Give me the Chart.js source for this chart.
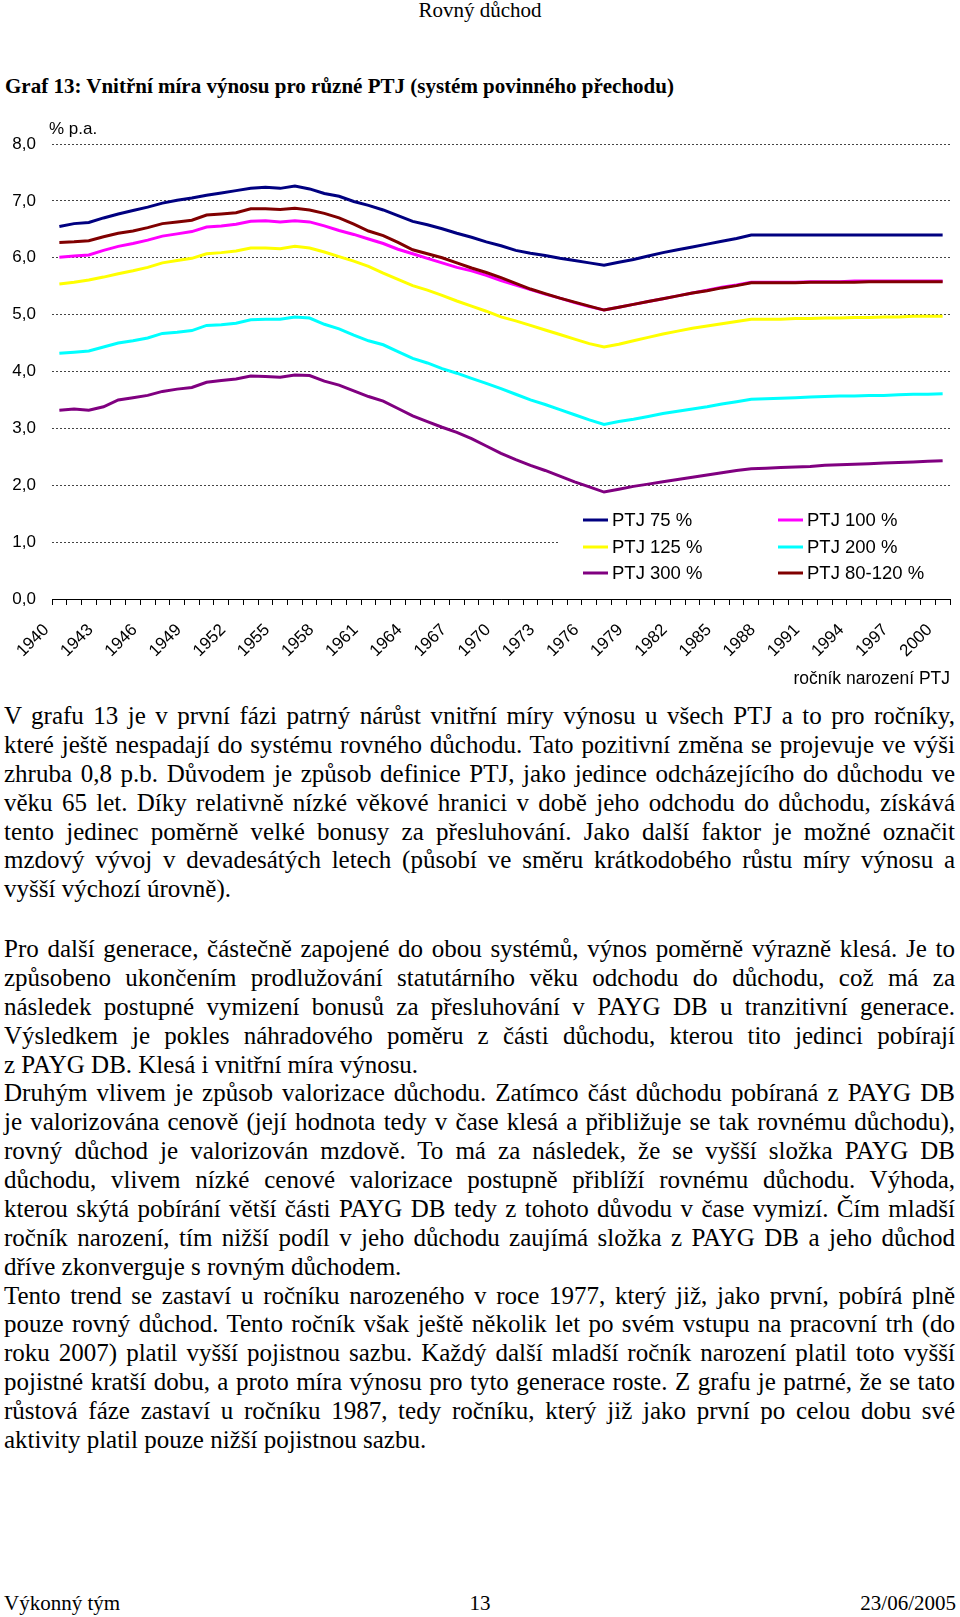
<!DOCTYPE html>
<html lang="cs">
<head>
<meta charset="utf-8">
<title>Graf 13</title>
<script src="https://cdn.jsdelivr.net/npm/chart.js@4.4.1/dist/chart.umd.min.js"></script>
<style>
  html, body { margin: 0; padding: 0; background: #fff; }
  #page { position: relative; width: 960px; height: 1617px; overflow: hidden;
          font-family: "Liberation Serif", "Times New Roman", serif; color: #000; }
  #chartBox { position: absolute; left: 0; top: 99px; width: 960px; height: 600px; }
  .ln { position: absolute; left: 4px; white-space: pre; font-size: 25px; line-height: 29px; }
  .hdr { position: absolute; left: 0; width: 960px; top: 0; text-align: center; font-size: 21px; line-height: 21px; }
  .ttl { position: absolute; left: 5px; top: 74px; font-size: 21px; line-height: 24px; font-weight: bold; white-space: nowrap; }
  .ft { position: absolute; top: 1591px; font-size: 21px; line-height: 24px; white-space: nowrap; }
</style>
</head>
<body>
<div id="page">
  <div class="hdr">Rovný důchod</div>
  <div class="ttl">Graf 13: Vnitřní míra výnosu pro různé PTJ (systém povinného přechodu)</div>
  <div id="chartBox"><canvas id="c"></canvas></div>
  <div class="ft" style="left:4px">Výkonný tým</div>
  <div class="ft" style="left:0;width:960px;text-align:center">13</div>
  <div class="ft" style="right:4px">23/06/2005</div>
</div>
<script>
// ročník narození (categories)
const years = ["1940","1941","1942","1943","1944","1945","1946","1947","1948","1949",
  "1950","1951","1952","1953","1954","1955","1956","1957","1958","1959",
  "1960","1961","1962","1963","1964","1965","1966","1967","1968","1969",
  "1970","1971","1972","1973","1974","1975","1976","1977","1978","1979",
  "1980","1981","1982","1983","1984","1985","1986","1987","1988","1989",
  "1990","1991","1992","1993","1994","1995","1996","1997","1998","1999","2000"];

// labelled years on the x axis
const tickYears = ["1940","1943","1946","1949","1952","1955","1958","1961","1964","1967",
  "1970","1973","1976","1979","1982","1985","1988","1991","1994","1997","2000"];

const ptj75 = [6.55,6.60,6.62,6.70,6.77,6.83,6.89,6.96,7.01,7.05,
  7.10,7.14,7.18,7.22,7.24,7.22,7.26,7.21,7.13,7.08,
  6.99,6.92,6.84,6.74,6.64,6.58,6.51,6.43,6.36,6.28,
  6.21,6.13,6.08,6.04,5.99,5.95,5.91,5.87,
  5.92,5.97,6.03,6.09,6.14,6.19,6.24,6.29,6.34,6.40,
  6.40,6.40,6.40,6.40,6.40,6.40,6.40,6.40,6.40,6.40,6.40,6.40,6.40];

const ptj100 = [6.01,6.03,6.05,6.13,6.20,6.25,6.31,6.38,6.42,6.46,
  6.54,6.56,6.59,6.64,6.65,6.63,6.65,6.63,6.56,6.48,
  6.41,6.33,6.25,6.15,6.07,5.99,5.91,5.83,5.77,5.69,
  5.60,5.52,5.44,5.36,5.29,5.21,5.14,5.08,
  5.13,5.18,5.23,5.28,5.33,5.38,5.43,5.48,5.52,5.57,
  5.57,5.57,5.57,5.58,5.58,5.58,5.59,5.59,5.59,5.59,5.59,5.59,5.59];

const ptj125 = [5.54,5.57,5.61,5.66,5.72,5.77,5.83,5.91,5.95,5.99,
  6.07,6.09,6.12,6.17,6.17,6.16,6.20,6.17,6.10,6.02,
  5.94,5.85,5.73,5.62,5.51,5.43,5.34,5.24,5.15,5.06,
  4.96,4.89,4.81,4.73,4.65,4.57,4.49,4.43,
  4.48,4.54,4.60,4.66,4.71,4.76,4.80,4.84,4.88,4.92,
  4.92,4.92,4.93,4.93,4.94,4.94,4.95,4.95,4.96,4.96,4.97,4.97,4.97];

const ptj200 = [4.32,4.34,4.36,4.43,4.50,4.54,4.59,4.67,4.69,4.72,
  4.81,4.82,4.85,4.91,4.92,4.92,4.96,4.94,4.83,4.75,
  4.64,4.54,4.47,4.35,4.23,4.15,4.05,3.97,3.88,3.79,
  3.70,3.60,3.50,3.42,3.33,3.24,3.15,3.07,
  3.12,3.16,3.21,3.26,3.30,3.34,3.38,3.43,3.47,3.51,
  3.52,3.53,3.54,3.55,3.56,3.57,3.57,3.58,3.58,3.59,3.60,3.60,3.61];

const ptj300 = [3.32,3.34,3.32,3.38,3.50,3.54,3.58,3.65,3.69,3.72,
  3.81,3.84,3.87,3.92,3.91,3.90,3.94,3.93,3.83,3.76,
  3.66,3.56,3.48,3.35,3.22,3.12,3.02,2.93,2.82,2.69,
  2.56,2.45,2.35,2.26,2.16,2.06,1.97,1.88,
  1.93,1.98,2.02,2.06,2.10,2.14,2.18,2.22,2.26,2.29,
  2.30,2.31,2.32,2.33,2.35,2.36,2.37,2.38,2.39,2.40,2.41,2.42,2.43];

const ptj80_120 = [6.27,6.28,6.30,6.37,6.43,6.47,6.53,6.60,6.63,6.66,
  6.75,6.77,6.79,6.86,6.86,6.85,6.87,6.84,6.78,6.70,
  6.59,6.47,6.39,6.27,6.14,6.07,6.00,5.91,5.82,5.74,
  5.65,5.55,5.45,5.37,5.29,5.22,5.15,5.08,
  5.13,5.18,5.23,5.28,5.33,5.38,5.42,5.47,5.51,5.56,
  5.56,5.56,5.56,5.57,5.57,5.57,5.57,5.58,5.58,5.58,5.58,5.58,5.58];

const seriesNames = ["PTJ 75 %", "PTJ 100 %", "PTJ 125 %", "PTJ 200 %", "PTJ 300 %", "PTJ 80-120 %"];
const seriesData = [ptj75, ptj100, ptj125, ptj200, ptj300, ptj80_120];
const seriesColors = ["#000080", "#ff00ff", "#ffff00", "#00ffff", "#800080", "#800000"];

Chart.defaults.font.family = '"Liberation Sans", Arial, sans-serif';
Chart.defaults.color = "#000";

// "% p.a." above the value axis
const unitLabel = {
  id: "unitLabel",
  afterDraw(chart) {
    const ctx = chart.ctx, a = chart.chartArea;
    ctx.save();
    ctx.font = '17px "Liberation Sans", Arial, sans-serif';
    ctx.fillStyle = "#000";
    ctx.textBaseline = "middle";
    ctx.fillText("% p.a.", a.left - 3, a.top - 15);
    ctx.restore();
  }
};

// two-column legend inside the plot, bottom right
const legendBox = {
  id: "legendBox",
  afterDraw(chart) {
    const ctx = chart.ctx, a = chart.chartArea;
    const left = a.left + 508, top = a.bottom - 97;
    ctx.save();
    ctx.fillStyle = "#fff";
    ctx.fillRect(left, top, a.right + 2 - left, 95);
    ctx.font = '18.5px "Liberation Sans", Arial, sans-serif';
    ctx.textBaseline = "middle";
    const rows = [a.bottom - 79, a.bottom - 52, a.bottom - 26];
    const cols = [a.left + 531, a.left + 726];
    chart.data.datasets.forEach((ds, i) => {
      const x = cols[i % 2], y = rows[Math.floor(i / 2)];
      ctx.strokeStyle = ds.borderColor;
      ctx.lineWidth = 3;
      ctx.beginPath();
      ctx.moveTo(x, y);
      ctx.lineTo(x + 25, y);
      ctx.stroke();
      ctx.fillStyle = "#000";
      ctx.fillText(ds.label, x + 29, y + 1);
    });
    ctx.restore();
  }
};

new Chart(document.getElementById("c"), {
  type: "line",
  data: {
    labels: years,
    datasets: seriesNames.map((name, i) => ({
      label: name,
      data: seriesData[i],
      borderColor: seriesColors[i],
      backgroundColor: seriesColors[i],
      borderWidth: 3,
      pointRadius: 0,
      tension: 0,
      fill: false,
      order: -i
    }))
  },
  options: {
    responsive: true,
    maintainAspectRatio: false,
    animation: false,
    layout: { padding: { top: 45, right: 10, bottom: 0, left: 0 } },
    plugins: { legend: { display: false }, tooltip: { enabled: false } },
    scales: {
      x: {
        offset: true,
        grid: { offset: true, drawOnChartArea: false, drawTicks: true, tickLength: 6, color: "#000", lineWidth: 1 },
        border: { display: true, color: "#000", width: 1 },
        ticks: {
          autoSkip: false, maxRotation: 45, minRotation: 45,
          labelOffset: -13, padding: 15,
          font: { size: 17 }, color: "#000",
          callback(value) {
            const y = this.getLabelForValue(value);
            return tickYears.includes(y) ? y : "";
          }
        },
        title: { display: true, text: "ročník narození PTJ", align: "end",
                 font: { size: 17.5 }, color: "#000", padding: { top: 0, bottom: 9 } },
        afterFit(s) { s.height = 100; s.paddingLeft = 0; s.paddingRight = 0; }
      },
      y: {
        min: 0, max: 8,
        ticks: { stepSize: 1, padding: 16, font: { size: 17 }, color: "#000",
                 callback: v => v.toFixed(1).replace(".", ",") },
        grid: { drawTicks: false, color: "#444", lineWidth: 1 },
        border: { display: false, dash: [2, 2] },
        afterFit(s) { s.width = 52; }
      }
    }
  },
  plugins: [unitLabel, legendBox]
});

// body text, laid out line by line as in the original page
const TEXT_W = 951, LINE_H = 28.87;
const blocks = [
  { y: 715.6, lines: [
    ["V grafu 13 je v první fázi patrný nárůst vnitřní míry výnosu u všech PTJ a to pro ročníky,", 1],
    ["které ještě nespadají do systému rovného důchodu. Tato pozitivní změna se projevuje ve výši", 1],
    ["zhruba 0,8 p.b. Důvodem je způsob definice PTJ, jako jedince odcházejícího do důchodu ve", 1],
    ["věku 65 let. Díky relativně nízké věkové hranici v době jeho odchodu do důchodu, získává", 1],
    ["tento jedinec poměrně velké bonusy za přesluhování. Jako další faktor je možné označit", 1],
    ["mzdový vývoj v devadesátých letech (působí ve směru krátkodobého růstu míry výnosu a", 1],
    ["vyšší výchozí úrovně).", 0]
  ]},
  { y: 948.6, lines: [
    ["Pro další generace, částečně zapojené do obou systémů, výnos poměrně výrazně klesá. Je to", 1],
    ["způsobeno ukončením prodlužování statutárního věku odchodu do důchodu, což má za", 1],
    ["následek postupné vymizení bonusů za přesluhování v PAYG DB u tranzitivní generace.", 1],
    ["Výsledkem je pokles náhradového poměru z části důchodu, kterou tito jedinci pobírají", 1],
    ["z PAYG DB. Klesá i vnitřní míra výnosu.", 0],
    ["Druhým vlivem je způsob valorizace důchodu. Zatímco část důchodu pobíraná z PAYG DB", 1],
    ["je valorizována cenově (její hodnota tedy v čase klesá a přibližuje se tak rovnému důchodu),", 1],
    ["rovný důchod je valorizován mzdově. To má za následek, že se vyšší složka PAYG DB", 1],
    ["důchodu, vlivem nízké cenové valorizace postupně přiblíží rovnému důchodu. Výhoda,", 1],
    ["kterou skýtá pobírání větší části PAYG DB tedy z tohoto důvodu v čase vymizí. Čím mladší", 1],
    ["ročník narození, tím nižší podíl v jeho důchodu zaujímá složka z PAYG DB a jeho důchod", 1],
    ["dříve zkonverguje s rovným důchodem.", 0],
    ["Tento trend se zastaví u ročníku narozeného v roce 1977, který již, jako první, pobírá plně", 1],
    ["pouze rovný důchod. Tento ročník však ještě několik let po svém vstupu na pracovní trh (do", 1],
    ["roku 2007) platil vyšší pojistnou sazbu. Každý další mladší ročník narození platil toto vyšší", 1],
    ["pojistné kratší dobu, a proto míra výnosu pro tyto generace roste. Z grafu je patrné, že se tato", 1],
    ["růstová fáze zastaví u ročníku 1987, tedy ročníku, který již jako první po celou dobu své", 1],
    ["aktivity platil pouze nižší pojistnou sazbu.", 0]
  ]}
];

const page = document.getElementById("page");
blocks.forEach(b => {
  b.lines.forEach(([text, justify], k) => {
    const d = document.createElement("div");
    d.className = "ln";
    d.style.top = (b.y + k * LINE_H - 14.5) + "px";
    d.textContent = text;
    page.appendChild(d);
    if (justify) {
      const w = d.getBoundingClientRect().width;
      const gaps = (text.match(/ /g) || []).length;
      if (gaps) d.style.wordSpacing = ((TEXT_W - w) / gaps) + "px";
    }
  });
});
</script>
</body>
</html>
